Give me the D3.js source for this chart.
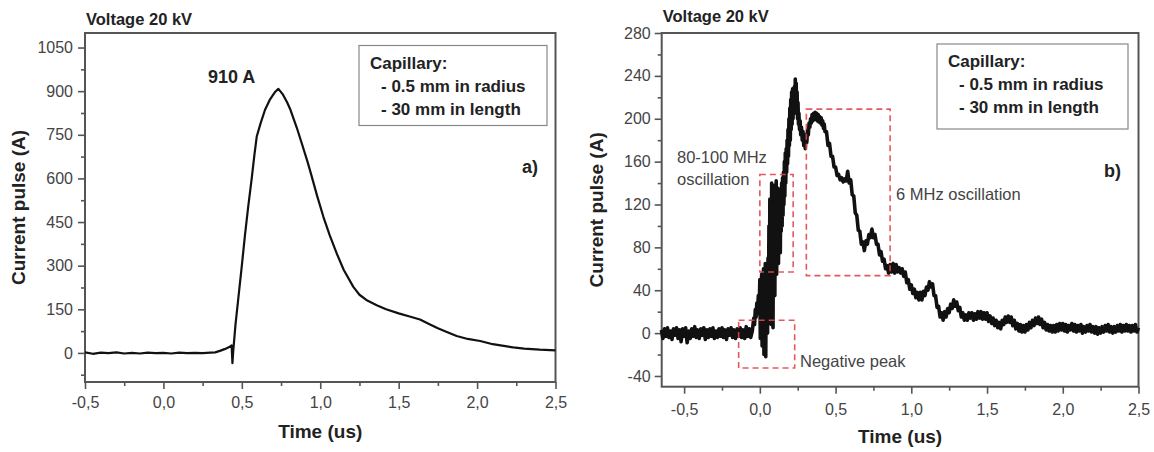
<!DOCTYPE html>
<html><head><meta charset="utf-8">
<script src="https://cdn.jsdelivr.net/npm/d3@7"></script>
<style>
body{margin:0;background:#fff;}
svg{display:block;font-family:"Liberation Sans",Arial,Helvetica,sans-serif;}
</style></head><body>
<svg id="c" width="1154" height="452"></svg>
<script>
// ---------------- DATA ----------------
const xTickValues = [-0.5, 0, 0.5, 1, 1.5, 2, 2.5];
const xMinorTicks = [-0.25, 0.25, 0.75, 1.25, 1.75, 2.25];
const leftYTicks = [0, 150, 300, 450, 600, 750, 900, 1050];
const leftYMinor = [-75, 75, 225, 375, 525, 675, 825, 975];
const rightYTicks = [-40, 0, 40, 80, 120, 160, 200, 240, 280];
const rightYMinor = [-20, 20, 60, 100, 140, 180, 220, 260];
const legendLines = ["Capillary:", "- 0.5 mm in radius", "- 30 mm in length"];
const panelTitles = ["Voltage 20 kV", "Voltage 20 kV"];
const panelLetters = ["a)", "b)"];
const peakLabel = "910 A";

// left panel: current pulse (time us, current A)
const leftPulse = [
[-0.5,2],[-0.45,-3],[-0.4,1],[-0.35,-1],[-0.3,2],[-0.25,-2],[-0.2,0],[-0.15,-2],[-0.1,1],[-0.05,-1],
[0,0],[0.05,-2],[0.1,1],[0.15,-1],[0.2,0],[0.25,-1],[0.3,1],[0.33,2],[0.36,7],[0.39,13],[0.42,20],
[0.435,26],[0.44,-35],[0.445,5],[0.46,100],[0.48,200],[0.5,300],[0.52,405],[0.54,500],[0.563,600],
[0.58,680],[0.595,744],[0.62,790],[0.648,836],[0.68,872],[0.71,896],[0.733,908],[0.76,890],[0.79,860],
[0.81,836],[0.85,775],[0.882,721],[0.92,655],[0.946,606],[0.98,540],[1.02,468],[1.06,405],[1.105,342],
[1.15,285],[1.211,227],[1.25,200],[1.3,180],[1.36,164],[1.42,150],[1.5,136],[1.57,125],[1.636,115],
[1.7,98],[1.75,85],[1.807,72],[1.87,58],[1.94,48],[2.02,41],[2.1,30],[2.17,24],[2.23,19],[2.3,15],
[2.4,11],[2.5,9]
];

// right panel: current pulse (time us, current A), noisy oscilloscope trace
const rightPulse = [
[-0.65,3],[-0.64,-5],[-0.63,4],[-0.62,-3],[-0.61,5],[-0.60,-4],[-0.59,2],[-0.58,-6],[-0.57,4],[-0.56,-2],
[-0.55,5],[-0.54,-5],[-0.53,3],[-0.52,-8],[-0.51,4],[-0.50,-3],[-0.49,5],[-0.48,-9],[-0.47,2],[-0.46,-5],
[-0.45,4],[-0.44,-3],[-0.43,6],[-0.42,-4],[-0.41,3],[-0.40,-5],[-0.39,4],[-0.38,-2],[-0.37,5],[-0.36,-6],
[-0.35,3],[-0.34,-4],[-0.33,4],[-0.32,-3],[-0.31,5],[-0.30,-5],[-0.29,2],[-0.28,-4],[-0.27,4],[-0.26,-3],
[-0.25,5],[-0.24,-4],[-0.23,3],[-0.22,-6],[-0.21,4],[-0.20,-2],[-0.19,5],[-0.18,-4],[-0.17,3],[-0.16,-5],
[-0.15,4],[-0.14,-3],[-0.13,5],[-0.12,-4],[-0.11,3],[-0.10,-5],[-0.09,6],[-0.08,-3],[-0.07,4],[-0.06,-4],
[-0.05,2],[-0.04,14],[-0.035,8],[-0.03,22],[-0.025,15],[-0.02,28],[-0.015,20],[-0.01,35],[-0.005,18],
[0.000,50],[0.003,-5],[0.006,40],[0.009,10],[0.012,55],[0.015,-12],[0.018,45],[0.021,0],[0.024,60],
[0.027,-20],[0.030,50],[0.033,5],[0.036,65],[0.039,-22],[0.042,55],[0.045,10],[0.048,62],[0.051,0],
[0.054,70],[0.057,20],[0.060,100],[0.063,15],[0.066,125],[0.069,30],[0.072,110],[0.075,8],[0.078,140],
[0.081,40],[0.084,120],[0.087,5],[0.090,130],[0.093,50],[0.096,138],[0.099,35],[0.102,125],[0.105,60],
[0.108,142],[0.111,55],[0.114,130],[0.117,70],[0.120,135],[0.123,65],[0.126,120],[0.129,80],[0.132,128],
[0.135,75],[0.138,125],[0.141,95],[0.144,140],[0.147,100],[0.150,145],[0.153,110],[0.156,150],[0.159,120],
[0.162,160],[0.165,128],[0.168,168],[0.171,140],[0.174,172],[0.177,150],[0.180,180],[0.183,158],[0.186,190],
[0.189,165],[0.192,200],[0.195,175],[0.198,210],[0.201,180],[0.204,218],[0.207,190],[0.210,225],[0.213,195],
[0.216,228],[0.219,200],[0.222,222],[0.225,205],[0.228,230],[0.231,210],[0.234,237],[0.237,212],[0.240,233],
[0.243,205],[0.246,225],[0.249,200],[0.252,215],[0.255,195],[0.258,205],[0.262,190],[0.266,198],[0.270,185],
[0.275,192],[0.280,180],[0.285,188],[0.290,175],[0.295,185],[0.300,172],[0.305,183],[0.310,178],[0.315,190],
[0.320,185],[0.325,196],[0.330,192],[0.335,200],[0.340,196],[0.345,204],[0.350,198],[0.355,205],[0.360,199],
[0.365,206],[0.370,200],[0.375,205],[0.380,198],[0.385,204],[0.390,197],[0.395,202],[0.400,196],[0.405,201],
[0.410,194],[0.415,198],[0.420,191],[0.425,195],[0.430,188],
[0.44,188],[0.45,175],[0.46,177],[0.47,165],[0.48,165],[0.49,155],[0.50,155],[0.51,147],[0.52,148],[0.53,143],
[0.54,145],[0.55,141],[0.56,144],[0.57,142],[0.58,151],[0.59,140],[0.60,143],[0.61,129],[0.62,128],[0.63,112],
[0.64,110],[0.65,96],[0.66,95],[0.67,83],[0.68,85],[0.69,77],[0.70,86],[0.71,83],[0.72,92],[0.73,89],
[0.74,97],[0.75,89],[0.76,92],[0.77,83],[0.78,83],[0.79,73],[0.80,76],[0.81,67],[0.82,69],[0.83,60],
[0.84,63],[0.85,56],[0.86,64],[0.87,57],[0.88,65],[0.89,56],[0.90,64],[0.91,57],[0.92,61],[0.93,56],
[0.94,60],[0.95,53],[0.96,57],[0.97,47],[0.98,50],[0.99,41],[1.00,45],[1.01,37],[1.02,41],[1.03,33],
[1.04,38],[1.05,31],[1.06,38],[1.07,31],[1.08,39],[1.09,35],[1.10,43],[1.11,40],[1.12,48],[1.13,43],
[1.14,46],[1.15,35],[1.16,35],[1.17,24],[1.18,25],[1.19,15],[1.20,19],[1.21,12],[1.22,20],[1.23,15],
[1.24,23],[1.25,19],[1.26,27],[1.27,23],[1.28,31],[1.29,25],[1.30,29],[1.31,21],[1.32,24],[1.33,15],
[1.34,19],[1.35,12],[1.36,17],[1.37,12],[1.38,19],[1.39,14],[1.40,19],[1.41,12],[1.42,18],[1.43,13],
[1.44,20],[1.45,14],[1.46,20],[1.47,13],[1.48,19],[1.49,13],[1.50,19],[1.51,11],[1.52,16],[1.53,9],
[1.54,14],[1.55,7],[1.56,12],[1.57,5],[1.58,10],[1.59,4],[1.60,12],[1.61,8],[1.62,15],[1.63,10],
[1.64,16],[1.65,10],[1.66,15],[1.67,7],[1.68,12],[1.69,4],[1.70,9],[1.71,2],[1.72,8],[1.73,1],
[1.74,7],[1.75,1],[1.76,8],[1.77,3],[1.78,10],[1.79,5],[1.80,12],[1.81,7],[1.82,14],[1.83,9],
[1.84,15],[1.85,8],[1.86,13],[1.87,5],[1.88,10],[1.89,3],[1.90,8],[1.91,2],[1.92,7],[1.93,1],
[1.94,7],[1.95,1],[1.96,8],[1.97,2],[1.98,9],[1.99,3],[2.00,9],[2.01,2],[2.02,8],[2.03,1],
[2.04,7],[2.05,3],[2.06,9],[2.07,2],[2.08,8],[2.09,1],[2.10,7],[2.11,2],[2.12,8],[2.13,0],
[2.14,6],[2.15,1],[2.16,7],[2.17,2],[2.18,8],[2.19,1],[2.20,6],[2.21,0],[2.22,6],[2.23,-1],
[2.24,5],[2.25,0],[2.26,6],[2.27,1],[2.28,7],[2.29,2],[2.30,8],[2.31,1],[2.32,6],[2.33,0],
[2.34,6],[2.35,1],[2.36,7],[2.37,2],[2.38,8],[2.39,1],[2.40,7],[2.41,2],[2.42,8],[2.43,2],
[2.44,7],[2.45,1],[2.46,7],[2.47,2],[2.48,8],[2.49,1],[2.50,5]
];

// annotation boxes on right panel (data coords: time range, current range)
const boxLabels = ["Negative peak", "80-100 MHz oscillation", "6 MHz oscillation"];
const boxTimes = [[-0.14, 0.23], [0.0, 0.22], [0.307, 0.86]];
const boxCurrents = [[-32.6, 12], [57, 148], [53.6, 209]];

// ---------------- DRAW ----------------
const svg = d3.select("#c");
const fmtX = d => d3.format(".1f")(d).replace(".", ",").replace("\u2212", "-");
const fmtY = d => d3.format("d")(d).replace("\u2212", "-");
const AXIS_COL = "#555";
const TICK_TXT = "#444";

function panel(cfg) {
  const g = svg.append("g");
  const x = d3.scaleLinear().domain(cfg.xDomain).range([cfg.left, cfg.right]);
  const y = d3.scaleLinear().domain(cfg.yDomain).range([cfg.bottom, cfg.top]);

  // minor ticks
  g.append("g").attr("transform", `translate(0,${cfg.bottom})`)
    .call(d3.axisBottom(x).tickValues(xMinorTicks).tickSize(4).tickFormat(""))
    .call(s => s.select(".domain").remove());
  g.append("g").attr("transform", `translate(${cfg.left},0)`)
    .call(d3.axisLeft(y).tickValues(cfg.yMinor).tickSize(4).tickFormat(""))
    .call(s => s.select(".domain").remove());

  // major ticks
  const gx = g.append("g").attr("transform", `translate(0,${cfg.bottom})`)
    .call(d3.axisBottom(x).tickValues(xTickValues).tickSize(7).tickPadding(cfg.xPad).tickFormat(fmtX));
  gx.select(".domain").remove();
  const gy = g.append("g").attr("transform", `translate(${cfg.left},0)`)
    .call(d3.axisLeft(y).tickValues(cfg.yTicks).tickSize(7).tickPadding(cfg.yPad).tickFormat(fmtY));
  gy.select(".domain").remove();

  g.selectAll(".tick line").attr("stroke", AXIS_COL).attr("stroke-width", 1.6);
  g.selectAll(".tick text").attr("fill", TICK_TXT).style("font-size", "16px")
    .style("font-family", '"Liberation Sans",Arial,sans-serif');

  // frame
  g.append("rect").attr("x", cfg.left).attr("y", cfg.top)
    .attr("width", cfg.right - cfg.left).attr("height", cfg.bottom - cfg.top)
    .attr("fill", "none").attr("stroke", AXIS_COL).attr("stroke-width", 2);

  // trace
  const line = d3.line().x(d => x(d[0])).y(d => y(d[1]));
  g.append("path").datum(cfg.data).attr("d", line)
    .attr("fill", "none").attr("stroke", "#111")
    .attr("stroke-width", cfg.lineWidth).attr("stroke-linejoin", "round");

  // axis titles
  g.append("text").attr("x", (cfg.left + cfg.right) / 2).attr("y", cfg.xTitleY)
    .attr("text-anchor", "middle").attr("font-weight", "bold").attr("font-size", 19)
    .attr("fill", "#222").text("Time (us)");
  g.append("text").attr("transform", `translate(${cfg.yTitleX},${(cfg.top + cfg.bottom) / 2}) rotate(-90)`)
    .attr("text-anchor", "middle").attr("font-weight", "bold").attr("font-size", 19)
    .attr("fill", "#222").text("Current pulse (A)");

  // voltage title
  g.append("text").attr("x", cfg.left + 1).attr("y", cfg.titleY)
    .attr("font-weight", "bold").attr("font-size", 16.5).attr("fill", "#222").text(cfg.title);

  // legend box
  const lb = cfg.legend;
  g.append("rect").attr("x", lb.x).attr("y", lb.y).attr("width", lb.w).attr("height", lb.h)
    .attr("fill", "#fff").attr("stroke", "#888").attr("stroke-width", 1.2);
  legendLines.forEach((t, i) => {
    g.append("text").attr("x", lb.x + (i === 0 ? 11 : 22)).attr("y", lb.y + 23 + i * 23)
      .attr("font-weight", "bold").attr("font-size", 17).attr("fill", "#222").text(t);
  });

  // panel letter
  g.append("text").attr("x", cfg.letterX).attr("y", cfg.letterY)
    .attr("font-weight", "bold").attr("font-size", 18).attr("fill", "#222").text(cfg.letter);

  return {g, x, y};
}

const A = panel({
  xDomain: [-0.5, 2.5], yDomain: [-100, 1100],
  left: 85, right: 555.5, top: 33, bottom: 382,
  yTicks: leftYTicks, yMinor: leftYMinor, xPad: 8, yPad: 5,
  data: leftPulse, lineWidth: 2.2,
  xTitleY: 438, yTitleX: 25, titleY: 25, title: panelTitles[0],
  legend: {x: 359, y: 45.5, w: 188, h: 80},
  letter: panelLetters[0], letterX: 522, letterY: 173
});
// peak label
A.g.append("text").attr("x", 208).attr("y", 83).attr("font-weight", "bold")
  .attr("font-size", 18).attr("fill", "#222").text(peakLabel);

const B = panel({
  xDomain: [-0.648, 2.5], yDomain: [-50, 280],
  left: 661.7, right: 1138.5, top: 33, bottom: 386.7,
  yTicks: rightYTicks, yMinor: rightYMinor, xPad: 10, yPad: 4,
  data: rightPulse, lineWidth: 3.6,
  xTitleY: 443, yTitleX: 603, titleY: 22, title: panelTitles[1],
  legend: {x: 937, y: 44, w: 191, h: 85},
  letter: panelLetters[1], letterX: 1104, letterY: 177
});

// red dashed annotation boxes
boxTimes.forEach((bt, i) => {
  const bc = boxCurrents[i];
  B.g.append("rect")
    .attr("x", B.x(bt[0])).attr("y", B.y(bc[1]))
    .attr("width", B.x(bt[1]) - B.x(bt[0])).attr("height", B.y(bc[0]) - B.y(bc[1]))
    .attr("fill", "none").attr("stroke", "#e0474c").attr("stroke-width", 1.6)
    .attr("stroke-dasharray", "6,4").attr("opacity", 0.9);
});

// annotation texts
const annStyle = s => s.attr("font-size", 16.5).attr("fill", "#444");
B.g.append("text").attr("x", 677).attr("y", 163).call(annStyle).text("80-100 MHz");
B.g.append("text").attr("x", 677).attr("y", 185).call(annStyle).text("oscillation");
B.g.append("text").attr("x", 896).attr("y", 200).call(annStyle).text(boxLabels[2]);
B.g.append("text").attr("x", 800).attr("y", 367).call(annStyle).text(boxLabels[0]);
</script>
</body></html>
